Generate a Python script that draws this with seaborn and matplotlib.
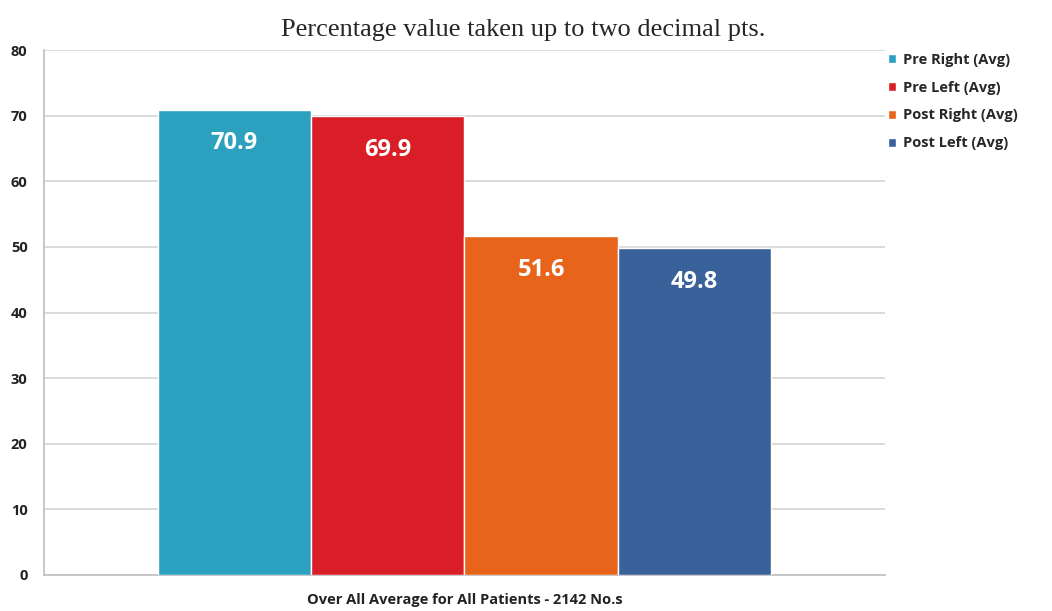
import pandas as pd
import seaborn as sns
import matplotlib.pyplot as plt

series = ["Pre Right (Avg)", "Pre Left (Avg)", "Post Right (Avg)", "Post Left (Avg)"]
values = [70.9, 69.9, 51.6, 49.8]
group = "Over All Average for All Patients - 2142 No.s"
colors = ["#2CA1BF", "#D91E27", "#E8641B", "#386299"]

df = pd.DataFrame({"group": [group] * len(series), "series": series, "value": values})

sns.set_style("white")
plt.rcParams["font.family"] = ["Open Sans", "DejaVu Sans"]

fig, ax = plt.subplots(figsize=(10.52, 6.11), dpi=100)
fig.subplots_adjust(left=0.042, right=0.841, top=0.918, bottom=0.059)

sns.barplot(data=df, x="group", y="value", hue="series", palette=colors,
            width=0.73, saturation=1, ax=ax, zorder=3)

ax.set_ylim(0, 80)
ax.set_yticks(range(0, 81, 10))
ax.yaxis.grid(True, color="#d4d4d4", linewidth=1.2, zorder=0)
ax.set_axisbelow(True)
for s in ["top", "right"]:
    ax.spines[s].set_visible(False)
for s in ["left", "bottom"]:
    ax.spines[s].set_color("#bfbfbf")
    ax.spines[s].set_linewidth(1.2)
ax.tick_params(axis="y", length=6, color="#bfbfbf", width=1.2, labelsize=10.5, pad=6)
for lbl in ax.get_yticklabels():
    lbl.set_fontweight("bold")
    lbl.set_color("#222222")
ax.set_xticks([])
ax.set_xlabel(group, fontsize=10.5, fontweight="bold", color="#222222", labelpad=13)
ax.set_ylabel("")

# value labels sit inside the top of each bar
for bar, v in zip(ax.patches, values):
    ax.annotate(f"{v}", (bar.get_x() + bar.get_width() / 2, bar.get_height()),
                xytext=(0, -24), textcoords="offset points", ha="center", va="center",
                color="white", fontsize=17, fontweight="bold")

ax.legend(loc="upper left", bbox_to_anchor=(0.988, 1.02), frameon=False,
          handlelength=0.55, handleheight=0.55, handletextpad=0.5, labelspacing=0.95,
          prop={"weight": "bold", "size": 10.5})

fig.text(0.497, 0.951, "Percentage value taken up to two decimal pts.",
         ha="center", va="center", fontsize=19,
         family=["Liberation Serif", "DejaVu Serif"])

fig.savefig("out.png", dpi=100)
